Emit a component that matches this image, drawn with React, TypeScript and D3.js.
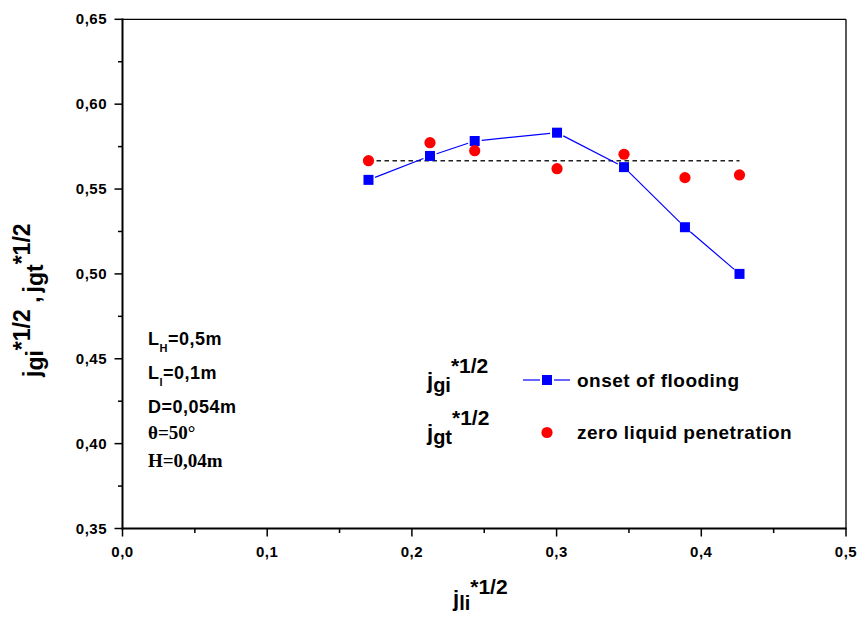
import React from "react";
import * as d3 from "d3";

const xValues = [0.17, 0.2125, 0.2434, 0.3003, 0.3466, 0.3887, 0.4264];
const onsetFlooding = [0.5554, 0.5695, 0.5783, 0.5832, 0.5629, 0.5275, 0.5];
const zeroPenetration = [0.5667, 0.5773, 0.5726, 0.562, 0.5705, 0.5567, 0.5583];
const averageLevel = 0.5667;
const xTicks = [0, 0.1, 0.2, 0.3, 0.4, 0.5];
const yTicks = [0.35, 0.4, 0.45, 0.5, 0.55, 0.6, 0.65];
const xMinor = [0.05, 0.15, 0.25, 0.35, 0.45];
const yMinor = [0.375, 0.425, 0.475, 0.525, 0.575, 0.625];

const W = 857;
const H = 617;
const L = 122.5;
const R = 846;
const T = 19.3;
const B = 528.5;

const SANS = "'Liberation Sans', Arial, sans-serif";
const SERIF = "'Liberation Serif', 'Times New Roman', serif";

export default function App() {
  const x = d3.scaleLinear().domain([0, 0.5]).range([L, R]);
  const y = d3.scaleLinear().domain([0.35, 0.65]).range([B, T]);
  const fmtX = (v: number) => d3.format(".1f")(v).replace(".", ",");
  const fmtY = (v: number) => d3.format(".2f")(v).replace(".", ",");

  const pts = xValues.map((xv, i) => [x(xv), y(onsetFlooding[i])] as [number, number]);
  const gap = 7;
  const segs = pts.slice(1).map((p, i) => {
    const a = pts[i];
    const dx = p[0] - a[0];
    const dy = p[1] - a[1];
    const len = Math.hypot(dx, dy);
    const ux = dx / len;
    const uy = dy / len;
    return [a[0] + ux * gap, a[1] + uy * gap, p[0] - ux * gap, p[1] - uy * gap];
  });

  const sq = 10;

  return (
    <svg
      width={W}
      height={H}
      style={{ position: "absolute", left: 0, top: 0, background: "#fff" }}
      fontFamily={SANS}
      fontWeight="bold"
    >
      <rect x={0} y={0} width={W} height={H} fill="#fff" />
      {/* frame */}
      <line x1={L} x2={R} y1={T} y2={T} stroke="#000" strokeWidth={1.3} />
      <line x1={R} x2={R} y1={T} y2={B} stroke="#000" strokeWidth={1.3} />
      <line x1={L} x2={L} y1={T - 0.7} y2={B + 1} stroke="#000" strokeWidth={2} />
      <line x1={L - 1} x2={R + 0.7} y1={B} y2={B} stroke="#000" strokeWidth={2} />

      {/* x ticks */}
      {xTicks.map((t) => (
        <g key={"xt" + t}>
          <line x1={x(t)} x2={x(t)} y1={B} y2={B + 8} stroke="#000" strokeWidth={1.5} />
          <text x={x(t)} y={557} textAnchor="middle" fontSize={15} letterSpacing={0.5}>
            {fmtX(t)}
          </text>
        </g>
      ))}
      {xMinor.map((t) => (
        <line key={"xm" + t} x1={x(t)} x2={x(t)} y1={B} y2={B + 4.5} stroke="#000" strokeWidth={1.5} />
      ))}

      {/* y ticks */}
      {yTicks.map((t) => (
        <g key={"yt" + t}>
          <line x1={L - 8} x2={L} y1={y(t)} y2={y(t)} stroke="#000" strokeWidth={1.5} />
          <text x={107} y={y(t) + 5} textAnchor="end" fontSize={15} letterSpacing={0.5}>
            {fmtY(t)}
          </text>
        </g>
      ))}
      {yMinor.map((t) => (
        <line key={"ym" + t} x1={L - 4.5} x2={L} y1={y(t)} y2={y(t)} stroke="#000" strokeWidth={1.5} />
      ))}

      {/* dashed average line */}
      <line
        x1={x(xValues[0])}
        x2={x(xValues[xValues.length - 1])}
        y1={y(averageLevel)}
        y2={y(averageLevel)}
        stroke="#222"
        strokeWidth={1.4}
        strokeDasharray="4.5 3.5"
      />

      {/* onset of flooding line */}
      {segs.map((s, i) => (
        <line key={"s" + i} x1={s[0]} y1={s[1]} x2={s[2]} y2={s[3]} stroke="#0000ff" strokeWidth={1.2} />
      ))}
      {pts.map((p, i) => (
        <rect key={"p" + i} x={p[0] - sq / 2} y={p[1] - sq / 2} width={sq} height={sq} fill="#0000ff" />
      ))}

      {/* zero liquid penetration */}
      {xValues.map((xv, i) => (
        <circle key={"c" + i} cx={x(xv)} cy={y(zeroPenetration[i])} r={5.6} fill="#ff0000" />
      ))}

      {/* annotation */}
      <text x={148} y={345} fontSize={18} letterSpacing={0.5}>
        L<tspan fontSize={11} dy={7}>H</tspan>
        <tspan dy={-7}>=0,5m</tspan>
      </text>
      <text x={148} y={379} fontSize={18} letterSpacing={0.5}>
        L<tspan fontSize={11} dy={7}>l</tspan>
        <tspan dy={-7}>=0,1m</tspan>
      </text>
      <text x={148} y={413} fontSize={18} letterSpacing={0.5}>
        D=0,054m
      </text>
      <text x={148} y={439} fontSize={19} fontFamily={SERIF}>
        θ=50°
      </text>
      <text x={148} y={467} fontSize={19} fontFamily={SERIF}>
        H=0,04m
      </text>

      {/* legend */}
      <text x={427} y={388} fontSize={22}>
        j<tspan fontSize={20} dy={4}>gi</tspan>
        <tspan fontSize={21} dy={-19}>*1/2</tspan>
      </text>
      <text x={427} y={440} fontSize={22}>
        j<tspan fontSize={20} dy={4}>gt</tspan>
        <tspan fontSize={21} dy={-19}>*1/2</tspan>
      </text>
      <line x1={523} x2={540} y1={380} y2={380} stroke="#0000ff" strokeWidth={1.2} />
      <line x1={554} x2={570} y1={380} y2={380} stroke="#0000ff" strokeWidth={1.2} />
      <rect x={547 - sq / 2} y={380 - sq / 2} width={sq} height={sq} fill="#0000ff" />
      <text x={577} y={387} fontSize={19} letterSpacing={0.5}>
        onset of flooding
      </text>
      <circle cx={547} cy={432.5} r={5.6} fill="#ff0000" />
      <text x={577} y={439} fontSize={19} letterSpacing={0.5}>
        zero liquid penetration
      </text>

      {/* x axis label */}
      <text x={453} y={606} fontSize={22}>
        j<tspan fontSize={20} dy={4}>li</tspan>
        <tspan fontSize={21} dy={-16}>*1/2</tspan>
      </text>

      {/* y axis label */}
      <text transform="translate(40,377) rotate(-90)" fontSize={23}>
        j<tspan dy={3}>gi</tspan>
        <tspan dy={-13}>*1/2</tspan>
        <tspan dy={10}> ,</tspan>
        <tspan dx={4}>j</tspan>
        <tspan dy={3}>gt</tspan>
        <tspan dy={-13}>*1/2</tspan>
      </text>
    </svg>
  );
}
